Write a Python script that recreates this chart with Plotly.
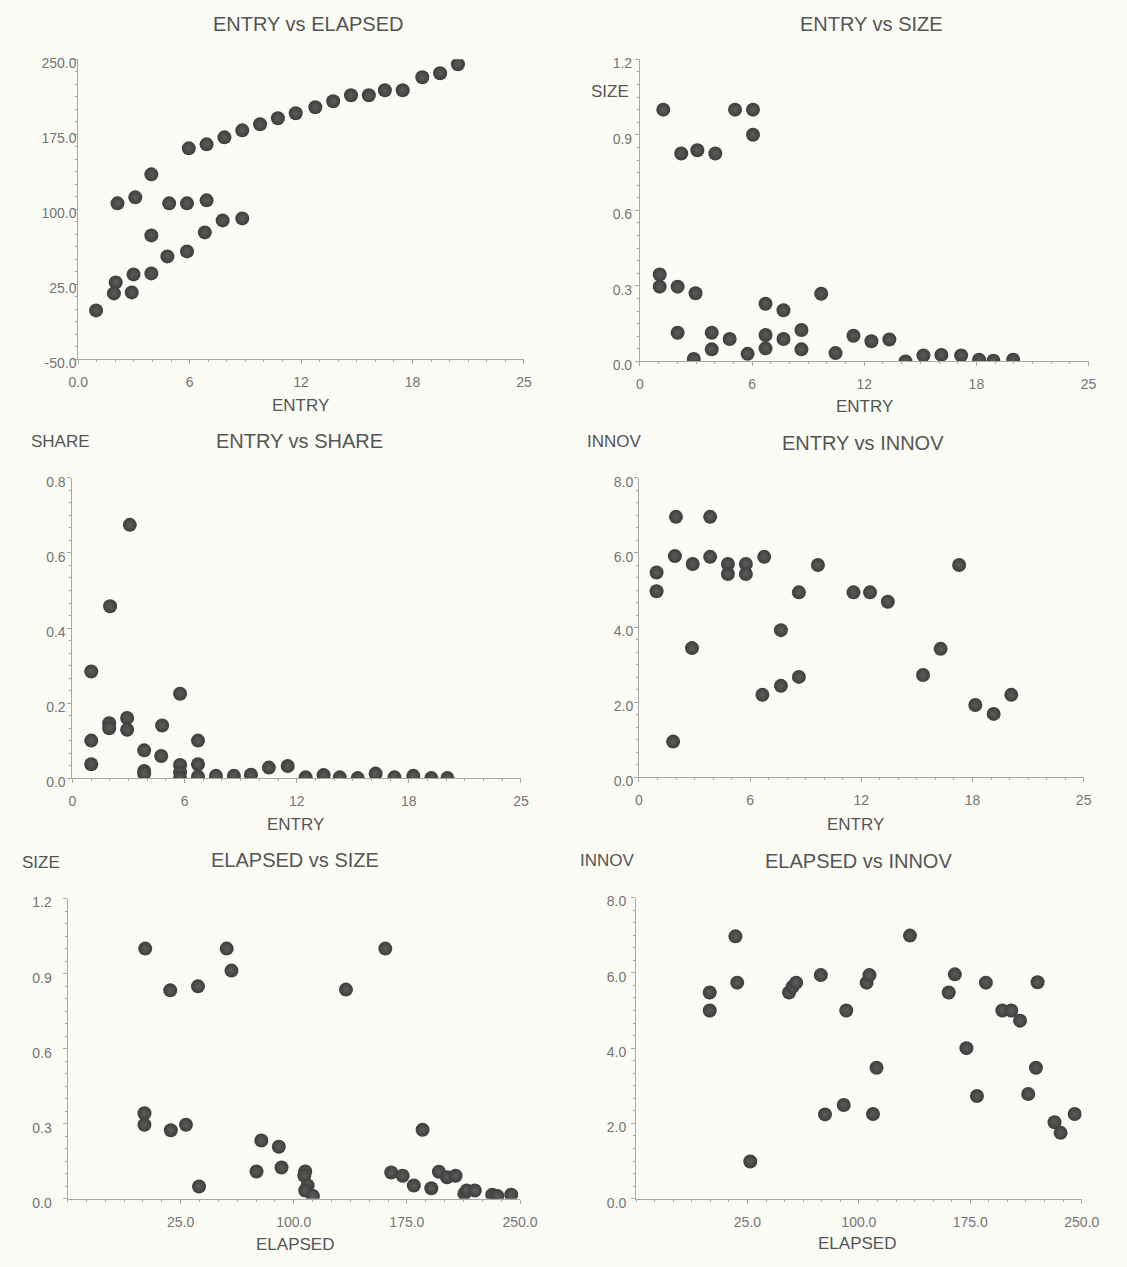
import plotly.graph_objects as go

W, H = 1127, 1267

# ---------------- data ----------------
# Panel 1: ENTRY vs ELAPSED
p1_entry = [21.3, 20.3, 19.3, 18.2, 17.2, 16.3, 15.3, 14.3, 13.3, 12.2, 11.2, 10.2, 9.2, 8.2, 7.2, 6.2,
            4.1, 3.2, 2.2, 5.1, 6.1, 7.2, 8.1, 9.2, 7.1, 4.1, 6.1, 5.0, 4.1, 3.1, 2.1, 2.0, 3.0, 1.0]
p1_elapsed = [245, 236, 232, 219, 219, 214, 214, 208, 202, 196, 191, 185, 179, 172, 165, 161,
              135, 112, 106, 106, 106, 109, 89, 91, 77, 74, 58, 53, 36, 35, 27, 16, 17, -1]

# Panel 2: ENTRY vs SIZE
p2_entry = [1.3, 5.3, 6.3, 6.3, 2.3, 3.2, 4.2, 1.1, 1.1, 2.1, 3.1, 10.1, 7.0, 8.0, 2.1, 4.0,
            5.0, 7.0, 8.0, 9.0, 4.0, 6.0, 7.0, 9.0, 3.0, 10.9, 11.9, 12.9, 13.9, 14.8, 15.8, 16.8,
            17.9, 18.9, 19.7, 20.8]
p2_size = [1.0, 1.0, 1.0, 0.90, 0.826, 0.839, 0.826, 0.345, 0.297, 0.297, 0.271, 0.269, 0.229, 0.203, 0.114, 0.114,
           0.089, 0.105, 0.089, 0.125, 0.048, 0.030, 0.052, 0.048, 0.010, 0.033, 0.102, 0.080, 0.087, 0.0, 0.024, 0.026,
           0.024, 0.007, 0.003, 0.007]

# Panel 3: ENTRY vs SHARE
p3_entry = [3.2, 2.1, 1.05, 6.0, 2.05, 2.05, 3.05, 3.05, 5.0, 1.05, 7.0, 4.0, 4.95, 1.05, 4.0, 4.0,
            6.0, 6.0, 6.0, 7.0, 7.0, 8.0, 9.0, 9.95, 10.95, 12.0, 13.0, 14.0, 14.9, 15.9, 16.9, 17.95,
            19.0, 20.0, 20.9]
p3_share = [0.675, 0.458, 0.284, 0.225, 0.146, 0.133, 0.160, 0.129, 0.140, 0.100, 0.100, 0.074, 0.059, 0.037, 0.019, 0.012,
            0.035, 0.015, 0.0, 0.037, 0.004, 0.006, 0.006, 0.009, 0.028, 0.032, 0.002, 0.008, 0.002, 0.0, 0.012, 0.002,
            0.006, 0.0, 0.0]

# Panel 4: ENTRY vs INNOV
p4_entry = [2.08, 4.0, 2.02, 4.0, 7.04, 3.02, 5.0, 6.01, 10.06, 18.0, 0.99, 5.0, 6.01, 0.99, 8.99,
            12.06, 12.99, 13.99, 7.98, 2.98, 16.96, 15.97, 8.99, 7.98, 6.94, 20.93, 18.91, 19.94, 1.92]
p4_innov = [6.96, 6.96, 5.91, 5.89, 5.89, 5.70, 5.70, 5.70, 5.67, 5.67, 5.47, 5.43, 5.43, 4.97, 4.94,
            4.94, 4.94, 4.69, 3.93, 3.45, 3.43, 2.73, 2.68, 2.44, 2.20, 2.20, 1.93, 1.69, 0.95]

# Panel 5: ELAPSED vs SIZE
p5_elapsed = [1.5, 55.5, 160.7, 58.7, 18.1, 36.5, 134.6, 1.0, 1.0, 18.5, 28.5, 185.4, 78.5, 90.1, 75.3,
              91.9, 107.6, 107.0, 109.2, 107.6, 112.7, 37.2, 164.6, 172.2, 179.6, 191.2, 196.2, 201.6,
              207.3, 213.1, 214.7, 220.0, 231.6, 235.0, 244.2]
p5_size = [1.0, 1.0, 1.0, 0.912, 0.833, 0.849, 0.836, 0.342, 0.296, 0.274, 0.296, 0.276, 0.233, 0.208, 0.109,
           0.125, 0.109, 0.092, 0.053, 0.033, 0.011, 0.049, 0.105, 0.092, 0.053, 0.042, 0.108, 0.086,
           0.092, 0.020, 0.033, 0.033, 0.016, 0.011, 0.016]

# Panel 6: ELAPSED vs INNOV
p6_elapsed = [-0.4, -0.4, 16.9, 18.1, 26.9, 53.0, 55.4, 57.8, 74.4, 77.2, 89.8, 91.5, 105.2, 107.1, 109.5,
              111.9, 134.4, 160.5, 164.6, 172.4, 179.5, 185.5, 196.6, 202.6, 208.5, 214.0, 219.2, 220.3,
              231.7, 235.8, 245.3]
p6_innov = [5.48, 5.00, 6.97, 5.74, 0.99, 5.48, 5.63, 5.74, 5.94, 2.24, 2.49, 5.00, 5.74, 5.94, 2.25,
            3.48, 6.99, 5.48, 5.96, 4.00, 2.73, 5.74, 5.00, 5.00, 4.73, 2.78, 3.48, 5.75,
            2.03, 1.75, 2.25]

# tick values / labels
entry_ticks = [0, 6.25, 12.5, 18.75, 25]
entry_labels_p1 = ["0.0", "6", "12", "18", "25"]
entry_labels = ["0", "6", "12", "18", "25"]
elapsed_ticks = [-50, 25, 100, 175, 250]
elapsed_labels = ["-50.0", "25.0", "100.0", "175.0", "250.0"]
elapsed_x_ticks = [25, 100, 175, 250]
elapsed_x_labels = ["25.0", "100.0", "175.0", "250.0"]
size_ticks = [0, 0.3, 0.6, 0.9, 1.2]
size_labels = ["0.0", "0.3", "0.6", "0.9", "1.2"]
share_ticks = [0, 0.2, 0.4, 0.6, 0.8]
share_labels = ["0.0", "0.2", "0.4", "0.6", "0.8"]
innov_ticks = [0, 2, 4, 6, 8]
innov_labels = ["0.0", "2.0", "4.0", "6.0", "8.0"]

# ---------------- styling ----------------
FONT = "Liberation Sans"
BG = "#fcfcf7"
AXC = "#a8a8a8"
TICKC = "#747474"
TXTC = "#555555"
MARK = dict(size=14, color="#3e3e3e", line=dict(width=0),
            gradient=dict(type="radial", color="#5c5c5c"))


def px(p):
    return p / W


def py(p):
    return 1 - p / H


panels = [
    # x data, y data, x range, x ticks, x labels, y range, y ticks, y labels, xdom(px), ydom(px top,bottom), ylabel standoff, x major step
    (p1_entry, p1_elapsed, [0, 25], entry_ticks, entry_labels_p1, [-50, 250], elapsed_ticks, elapsed_labels,
     (70, 527), (56, 360), -6, 6.25),
    (p2_entry, p2_size, [0, 25], entry_ticks, entry_labels, [0, 1.2], size_ticks, size_labels,
     (646, 1106), (56, 362), 0, 6.25),
    (p3_entry, p3_share, [0, 25], entry_ticks, entry_labels, [0, 0.8], share_ticks, share_labels,
     (64, 524), (480, 784), -1, 6.25),
    (p4_entry, p4_innov, [0, 25], entry_ticks, entry_labels, [0, 8], innov_ticks, innov_labels,
     (645, 1101), (480, 783), -2, 6.25),
    (p5_elapsed, p5_size, [-50, 250], elapsed_x_ticks, elapsed_x_labels, [0, 1.2], size_ticks, size_labels,
     (59, 523), (906, 1210), 8, 75),
    (p6_elapsed, p6_innov, [-50, 250], elapsed_x_ticks, elapsed_x_labels, [0, 8], innov_ticks, innov_labels,
     (642, 1099), (905, 1210), 2, 75),
]

fig = go.Figure()
layout = dict(
    width=W, height=H, margin=dict(l=0, r=0, t=0, b=0),
    paper_bgcolor=BG, plot_bgcolor=BG, showlegend=False,
    font=dict(family=FONT, color=TXTC),
)

for i, (xs, ys, xr, xt, xl, yr, yt, yl, xd, yd, ystand, xmaj) in enumerate(panels, start=1):
    sfx = "" if i == 1 else str(i)
    fig.add_trace(go.Scatter(x=xs, y=ys, mode="markers", marker=MARK,
                             xaxis="x" + sfx, yaxis="y" + sfx, hoverinfo="skip"))
    ymaj = yt[1] - yt[0]
    layout["xaxis" + sfx] = dict(
        domain=[px(xd[0]), px(xd[1])], range=xr, anchor="y" + sfx,
        tickmode="array", tickvals=xt, ticktext=xl,
        showline=True, linecolor=AXC, linewidth=1, mirror=False,
        ticks="outside", ticklen=4, tickcolor=AXC, tickwidth=1,
        minor=dict(ticks="outside", ticklen=2, tickcolor=AXC, dtick=xmaj / 6, tick0=xr[0]),
        showgrid=False, zeroline=False, fixedrange=True,
        tickfont=dict(family=FONT, size=14, color=TICKC),
        ticklabelstandoff=6,
    )
    layout["yaxis" + sfx] = dict(
        domain=[py(yd[1]), py(yd[0])], range=yr, anchor="x" + sfx,
        tickmode="array", tickvals=yt, ticktext=yl,
        showline=True, linecolor=AXC, linewidth=1,
        ticks="outside", ticklen=4, tickcolor=AXC, tickwidth=1,
        minor=dict(ticks="outside", ticklen=2, tickcolor=AXC, dtick=ymaj / 6, tick0=yr[0]),
        showgrid=False, zeroline=False, fixedrange=True,
        tickfont=dict(family=FONT, size=14, color=TICKC),
        ticklabelstandoff=ystand, ticklabelshift=4,
    )

# titles and axis titles (pixel positions of the reference)
titles = [
    ("ENTRY vs ELAPSED", 306, 20, 20),
    ("ENTRY vs SIZE", 883, 20, 20),
    ("ENTRY vs SHARE", 297, 443, 20),
    ("ENTRY vs INNOV", 875, 445, 20),
    ("ELAPSED vs SIZE", 292, 867, 20),
    ("ELAPSED vs INNOV", 870, 868, 20),
    ("ENTRY", 298, 407, 17),
    ("ENTRY", 876, 408, 17),
    ("ENTRY", 293, 831, 17),
    ("ENTRY", 867, 831, 17),
    ("ELAPSED", 292, 1256, 17),
    ("ELAPSED", 869, 1255, 17),
    ("SIZE", 615, 89, 17),
    ("SHARE", 52, 443, 17),
    ("INNOV", 620, 443, 17),
    ("SIZE", 32, 869, 17),
    ("INNOV", 613, 867, 17),
]
ann = []
for text, x, y, s in titles:
    ann.append(dict(text=text, x=px(x), y=py(y), xref="paper", yref="paper",
                    xanchor="center", yanchor="middle", showarrow=False,
                    font=dict(family=FONT, size=s, color=TXTC)))
layout["annotations"] = ann

fig.update_layout(**layout)
fig.write_html("out.html")
